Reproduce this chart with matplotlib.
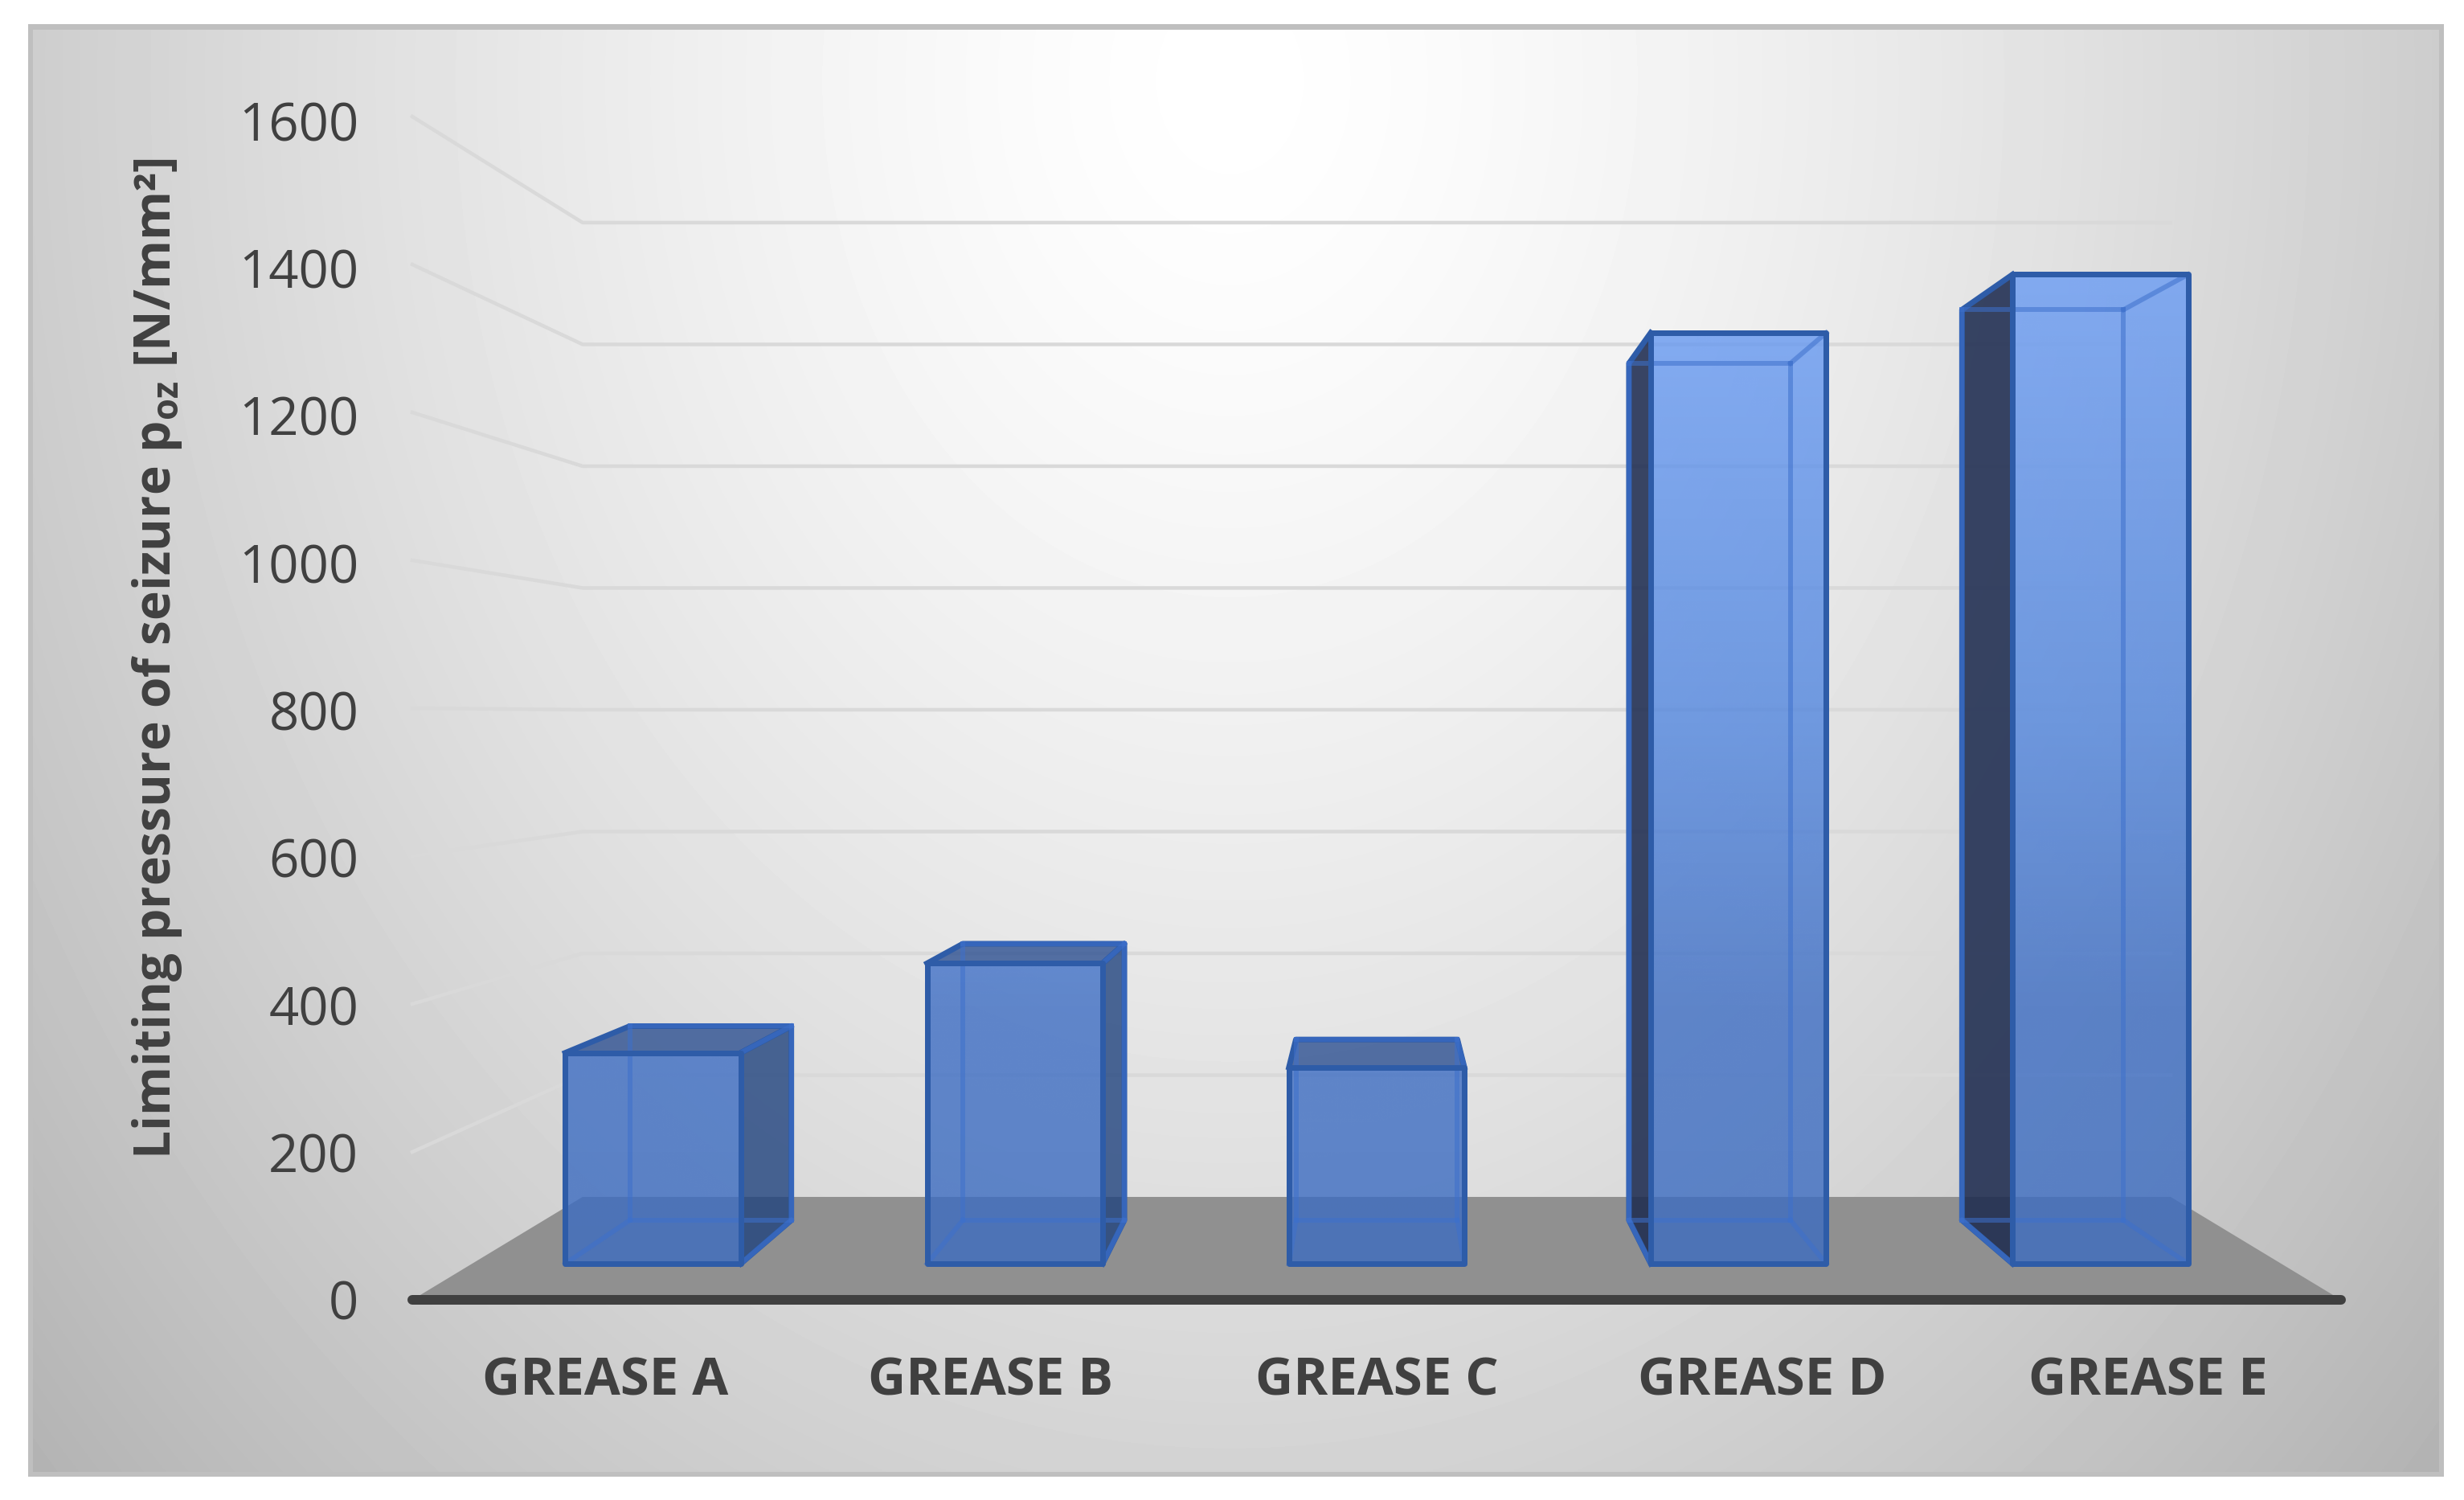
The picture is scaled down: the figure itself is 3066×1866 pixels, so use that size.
import numpy as np
import matplotlib
matplotlib.use("Agg")
import matplotlib.pyplot as plt
from matplotlib.patches import Polygon
from matplotlib.transforms import ScaledTranslation

categories = ["GREASE A", "GREASE B", "GREASE C", "GREASE D", "GREASE E"]
values = [304, 433, 283, 1342, 1426]
y_ticks = [0, 200, 400, 600, 800, 1000, 1200, 1400, 1600]

plt.rcParams["font.family"] = ["Open Sans", "DejaVu Sans"]
plt.rcParams["mathtext.fontset"] = "custom"
plt.rcParams["mathtext.bf"] = "Open Sans:bold"
plt.rcParams["mathtext.rm"] = "Open Sans"

W, H = 3066, 1866
fig = plt.figure(figsize=(W / 100, H / 100), dpi=100, facecolor="white")

# --- panel background ---
bg = fig.add_axes([0, 0, 1, 1], zorder=-1)
yy, xx = np.mgrid[0:H, 0:W]
r = np.sqrt(((xx - 1530) / 1500.0) ** 2 + ((yy - 100) / 1900.0) ** 2)
gray = (255 - 50 * r ** 1.4) / 255.0
gray = np.clip(gray, 0, 1)
gray[(xx < 41) | (xx >= 3035) | (yy < 37) | (yy >= 1831)] = 0xBF / 255.0
gray[(xx < 35) | (xx >= 3041) | (yy < 30) | (yy >= 1837)] = 1.0
bg.imshow(gray, cmap="gray", vmin=0, vmax=1, extent=(0, W, H, 0), aspect="auto",
          interpolation="nearest")
bg.axis("off")

# --- main axes: the front plane of the 3D box ---
left, right, bottom_px, top_px = 513, 2913, 1617, 145
ax = fig.add_axes([left / W, 1 - bottom_px / H, (right - left) / W, (bottom_px - top_px) / H])
ax.patch.set_alpha(0)
ax.set_xlim(0, len(categories))
ax.set_ylim(0, y_ticks[-1])

VP_X, VP_Y = 2.5, 788.0
S_BACK, S_F, S_B = 0.8234, 0.938, 0.8634
BAR_W = 0.485


def proj(x, v, s):
    return (VP_X + s * (x - VP_X), VP_Y + s * (v - VP_Y))


PX = 72 / 100.0  # points per output pixel

# floor
nx = len(categories)
ax.add_patch(Polygon([proj(0, 0, 1), proj(nx, 0, 1), proj(nx, 0, S_BACK), proj(0, 0, S_BACK)],
                     closed=True, facecolor="#909090", edgecolor="none", zorder=1, clip_on=False))

# gridlines on side wall and back wall
for v in y_ticks[1:]:
    pts = [proj(0, v, 1), proj(0, v, S_BACK), proj(nx, v, S_BACK)]
    ax.plot([p[0] for p in pts], [p[1] for p in pts], color="#d9d9d9", lw=4.5 * PX,
            solid_joinstyle="round", zorder=1.5, clip_on=False)

# colour of the bar fill, by height on the picture
stop_v = [0, 399, 779, 1388]
stop_c = np.array([[60, 108, 192], [62, 110, 196], [82, 134, 222], [106, 156, 244]]) / 255.0
ALPHA = 0.8
EDGE = "#2e5ca8"
HIDDEN = (0.24, 0.44, 0.80, 0.55)
LW_E = 7 * PX
LW_H = 6 * PX

for i, val in enumerate(values):
    x0, x1 = i + 0.5 - BAR_W / 2, i + 0.5 + BAR_W / 2
    fbl, fbr = proj(x0, 0, S_F), proj(x1, 0, S_F)
    ftl, ftr = proj(x0, val, S_F), proj(x1, val, S_F)
    bbl, bbr = proj(x0, 0, S_B), proj(x1, 0, S_B)
    btl, btr = proj(x0, val, S_B), proj(x1, val, S_B)

    # visible dark side faces
    if bbr[0] > fbr[0]:
        ax.add_patch(Polygon([ftr, btr, bbr, fbr], closed=True, facecolor="#20437e", alpha=ALPHA,
                             edgecolor="none", zorder=2))
        ax.plot([ftr[0], btr[0], bbr[0], fbr[0]], [ftr[1], btr[1], bbr[1], fbr[1]], color=EDGE,
                lw=LW_E, zorder=2.2, solid_joinstyle="round")
    if bbl[0] < fbl[0]:
        ax.add_patch(Polygon([ftl, btl, bbl, fbl], closed=True, facecolor="#1e2c50", alpha=0.88,
                             edgecolor="none", zorder=2))
        ax.plot([ftl[0], btl[0], bbl[0], fbl[0]], [ftl[1], btl[1], bbl[1], fbl[1]], color=EDGE,
                lw=LW_E, zorder=2.2, solid_joinstyle="round")
    if btl[1] > ftl[1]:
        ax.add_patch(Polygon([ftl, ftr, btr, btl], closed=True, facecolor="#2d5091", alpha=ALPHA,
                             edgecolor="none", zorder=2))
        ax.plot([ftl[0], btl[0], btr[0], ftr[0]], [ftl[1], btl[1], btr[1], ftr[1]], color=EDGE,
                lw=LW_E, zorder=2.2, solid_joinstyle="round")

    # front face with vertical gradient
    vs = np.linspace(fbl[1], ftl[1], 256)
    rgba = np.ones((256, 1, 4))
    for c in range(3):
        rgba[:, 0, c] = np.interp(vs, stop_v, stop_c[:, c])
    rgba[:, 0, 3] = ALPHA
    ax.imshow(rgba, extent=(fbl[0], fbr[0], fbl[1], ftl[1]), origin="lower", aspect="auto",
              interpolation="bilinear", zorder=3)

    # hidden edges seen through the front face
    hidden = [
        [btl, btr], [btr, bbr], [bbr, bbl], [bbl, btl],
        [bbl, fbl], [bbr, fbr], [btr, ftr],
    ]
    for a, b in hidden:
        ax.plot([a[0], b[0]], [a[1], b[1]], color=HIDDEN, lw=LW_H, zorder=3.5)

    # front outline
    ax.add_patch(Polygon([fbl, fbr, ftr, ftl], closed=True, facecolor="none", edgecolor=EDGE,
                         lw=LW_E, zorder=4, joinstyle="round"))

ax.set_xlim(0, nx)
ax.set_ylim(0, y_ticks[-1])

ax.set_xticks([i + 0.5 for i in range(nx)])
ax.set_xticklabels(categories, fontsize=47, fontweight="bold", color="#404040")
ax.set_yticks(y_ticks)
ax.set_yticklabels([str(v) for v in y_ticks], fontsize=47, color="#404040")
ax.tick_params(axis="x", length=0, pad=50)
ax.tick_params(axis="y", length=0, pad=48)
for lab, v in zip(ax.get_yticklabels(), y_ticks):
    off = 5 * v / y_ticks[-1] / 100.0
    lab.set_transform(lab.get_transform() + ScaledTranslation(0, -off, fig.dpi_scale_trans))
for s in ("top", "left", "right"):
    ax.spines[s].set_visible(False)
ax.spines["bottom"].set_linewidth(12 * PX)
ax.spines["bottom"].set_color("#404040")
ax.spines["bottom"].set_capstyle("round")
ax.spines["bottom"].set_zorder(5)

fig.text(196 / W, 1 - 819 / H, r"Limiting pressure of seizure p$_{\mathbf{oz}}$ [N/mm²]",
         rotation=90, ha="center", va="center", fontsize=44.8, fontweight="bold", color="#404040")

fig.savefig("out.png", dpi=100, facecolor="white")
